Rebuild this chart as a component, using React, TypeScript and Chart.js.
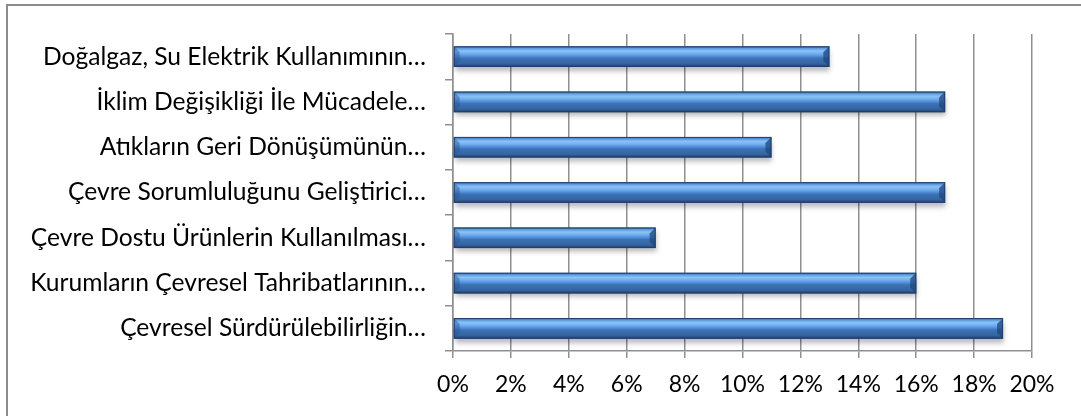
import React, { useEffect, useRef } from "react";
import { Chart, registerables } from "chart.js";

Chart.register(...registerables);

const categories = [
  "Doğalgaz, Su Elektrik Kullanımının…",
  "İklim Değişikliği İle Mücadele…",
  "Atıkların Geri Dönüşümünün…",
  "Çevre Sorumluluğunu Geliştirici…",
  "Çevre Dostu Ürünlerin Kullanılması…",
  "Kurumların Çevresel Tahribatlarının…",
  "Çevresel Sürdürülebilirliğin…",
];
const values = [13, 17, 11, 17, 7, 16, 19];
const xMin = 0;
const xMax = 20;
const xStep = 2;

const FONT = "Lato, 'Open Sans', sans-serif";
const GRID = "#8f8f8f";

const barShadow = {
  id: "barShadow",
  beforeDatasetDraw(chart: any) {
    const ctx = chart.ctx;
    ctx.save();
    ctx.shadowColor = "rgba(0,0,0,0.28)";
    ctx.shadowBlur = 5;
    ctx.shadowOffsetX = 1;
    ctx.shadowOffsetY = 4;
  },
  afterDatasetDraw(chart: any) {
    chart.ctx.restore();
  },
};

const bevel = {
  id: "bevel",
  afterDatasetsDraw(chart: any) {
    const ctx = chart.ctx;
    const meta = chart.getDatasetMeta(0);
    meta.data.forEach((el: any) => {
      const h = el.height;
      const top = el.y - h / 2;
      const bot = el.y + h / 2;
      const right = el.x;
      const left = el.base;
      const b = Math.min(6, h * 0.3);
      ctx.save();
      ctx.beginPath();
      ctx.moveTo(right, top);
      ctx.lineTo(right - b, top + b);
      ctx.lineTo(right - b, top + h * 0.5);
      ctx.lineTo(right, top + h * 0.5);
      ctx.closePath();
      ctx.fillStyle = "rgba(120,170,230,0.55)";
      ctx.fill();
      ctx.beginPath();
      ctx.moveTo(right, top);
      ctx.lineTo(right - b, top + b);
      ctx.lineTo(right - b, bot - b);
      ctx.lineTo(right, bot);
      ctx.closePath();
      ctx.fillStyle = "rgba(30,70,125,0.75)";
      ctx.fill();
      ctx.beginPath();
      ctx.moveTo(left, top);
      ctx.lineTo(left + b, top + b);
      ctx.lineTo(left + b, bot - b);
      ctx.lineTo(left, bot);
      ctx.closePath();
      ctx.fillStyle = "rgba(40,85,145,0.45)";
      ctx.fill();
      ctx.strokeStyle = "#1f416f";
      ctx.lineWidth = 1;
      ctx.strokeRect(left + 0.5, top + 0.5, right - left - 1, h - 1);
      ctx.restore();
    });
  },
};

export default function App() {
  const ref = useRef<HTMLCanvasElement | null>(null);

  useEffect(() => {
    if (!ref.current) return;
    const chart = new Chart(ref.current, {
      type: "bar",
      data: {
        labels: categories,
        datasets: [
          {
            data: values,
            categoryPercentage: 0.8,
            barPercentage: 0.57,
            borderWidth: 0,
            backgroundColor: (c: any) => {
              const ch = c.chart;
              const area = ch.chartArea;
              const ys = ch.scales && ch.scales.y;
              if (!area || !ys || c.dataIndex === undefined) return "#4a86cc";
              const center = ys.getPixelForValue(c.dataIndex);
              const th = (area.height / categories.length) * 0.456;
              const g = ch.ctx.createLinearGradient(0, center - th / 2, 0, center + th / 2);
              g.addColorStop(0, "#2f5f9c");
              g.addColorStop(0.1, "#5d9ae0");
              g.addColorStop(0.22, "#8cc3f3");
              g.addColorStop(0.35, "#73aff0");
              g.addColorStop(0.5, "#4b8ad6");
              g.addColorStop(0.58, "#3d72b5");
              g.addColorStop(0.85, "#34649f");
              g.addColorStop(1, "#1d3a63");
              return g;
            },
          },
        ],
      },
      options: {
        indexAxis: "y",
        animation: false,
        responsive: false,
        maintainAspectRatio: false,
        layout: { padding: { top: 34, right: 49, bottom: 0, left: 0 } },
        plugins: {
          legend: { display: false },
          tooltip: { enabled: false },
        },
        scales: {
          x: {
            min: xMin,
            max: xMax,
            afterFit: (s: any) => {
              s.height = 416 - 351;
            },
            ticks: {
              stepSize: xStep,
              padding: 13,
              color: "#000",
              font: { family: FONT, size: 23 },
              callback: (v: any) => v + "%",
            },
            grid: {
              color: GRID,
              lineWidth: 1.5,
              tickLength: 7,
              drawTicks: true,
            },
            border: { color: GRID, width: 1.5 },
          },
          y: {
            afterFit: (s: any) => {
              s.width = 453;
            },
            ticks: {
              padding: 19,
              color: "#000",
              font: { family: FONT, size: 24.6 },
              autoSkip: false,
            },
            grid: {
              drawOnChartArea: false,
              color: GRID,
              lineWidth: 1.5,
              tickLength: 8,
              offset: true,
            },
            border: { color: GRID, width: 1.5 },
          },
        },
      },
      plugins: [barShadow, bevel],
    });
    return () => chart.destroy();
  }, []);

  return (
    <div
      style={{
        position: "fixed",
        left: 0,
        top: 0,
        width: 1081,
        height: 416,
        overflow: "hidden",
        background: "#fff",
      }}
    >
      <div
        style={{
          position: "absolute",
          left: 6,
          top: 4,
          width: 1200,
          height: 500,
          border: "2px solid #8c8c8c",
          boxSizing: "border-box",
        }}
      />
      <canvas
        ref={ref}
        width={1081}
        height={416}
        style={{ position: "absolute", left: 0, top: 0, width: 1081, height: 416 }}
      />
    </div>
  );
}
